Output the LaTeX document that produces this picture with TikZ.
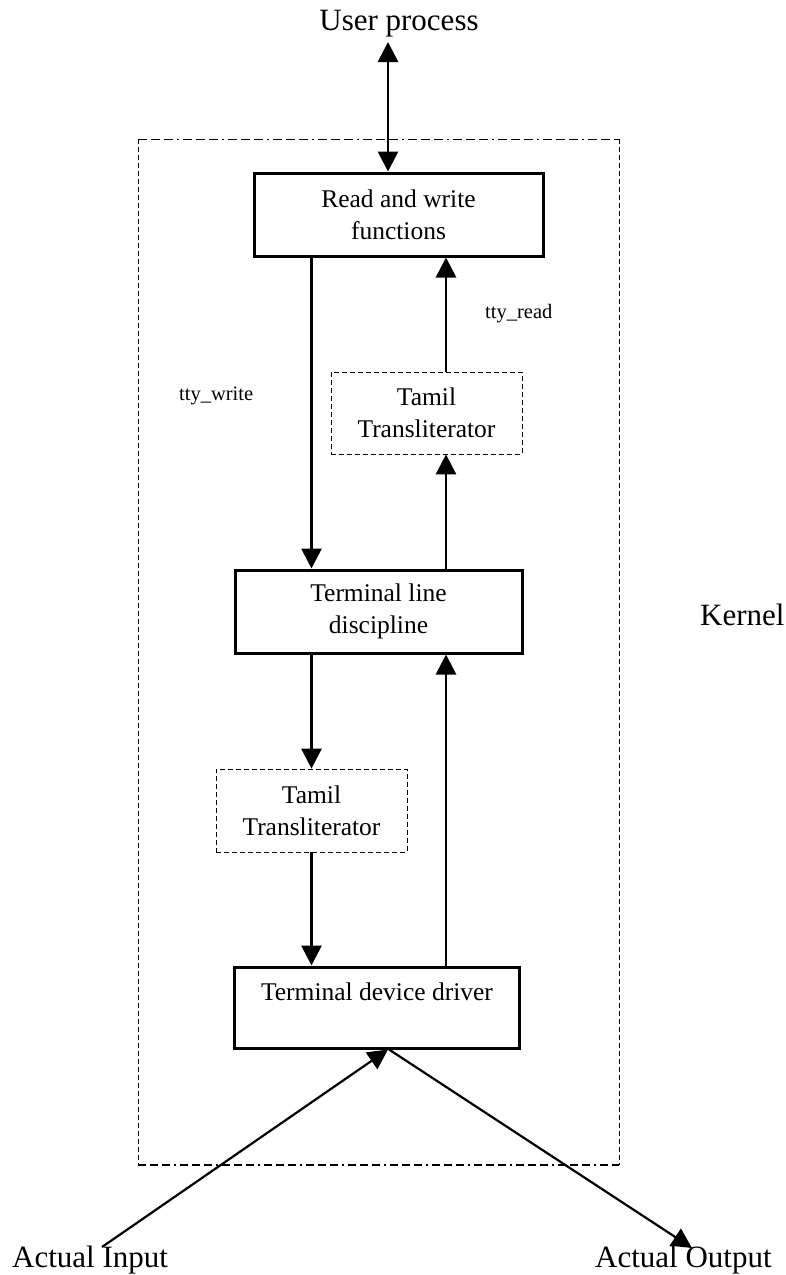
\documentclass[tikz,border=0pt]{standalone}
\usepackage{fontspec}
\setmainfont{Liberation Serif}
\usetikzlibrary{arrows.meta}
\tikzset{
  >={Triangle[length=20pt,width=20pt]},
  box/.style={draw, line width=3pt, minimum width=289pt, minimum height=83pt, align=center, inner sep=0pt, font=\fontsize{25.5}{32}\selectfont},
  tbox/.style={draw, line width=0.8pt, dash pattern=on 5pt off 3pt, minimum width=191pt, minimum height=82pt, align=center, inner sep=0pt, font=\fontsize{25.5}{32}\selectfont},
  big/.style={inner sep=0pt, font=\fontsize{31}{36}\selectfont},
  small/.style={inner sep=0pt, font=\fontsize{20.5}{24}\selectfont},
  flow/.style={line width=2.8pt, ->},
}

\begin{document}
\begin{tikzpicture}[x=1pt,y=1pt]
  \useasboundingbox (0,0) rectangle (786,-1275);
  \draw[line width=0.8pt, dash pattern=on 9pt off 4pt on 9pt off 4pt on 9pt off 4pt on 2pt off 4pt] (138,-139) -- (619,-139);
  \draw[line width=0.8pt, dash pattern=on 5pt off 3pt] (138,-139) -- (138,-1165) (619,-139) -- (619,-1165);
  \draw[line width=2pt, dash pattern=on 8pt off 4pt on 8pt off 4pt on 8pt off 4pt on 2pt off 4pt] (138,-1165) -- (619,-1165);
  \node[big, anchor=base] (user) at (399,-30) {User process};
  \node[big, anchor=base west] (kernel) at (700,-625) {Kernel};
  \node[box] (rw) at (398.5,-214.5) {Read and write\\functions};
  \node[tbox] (tamilup) at (426.5,-413) {Tamil\\Transliterator};
  \node[box, minimum width=287pt] (tld) at (378.5,-611.5) {Terminal line\\discipline};
  \node[tbox, minimum height=83pt] (tamildown) at (311.5,-810.5) {Tamil\\Transliterator};
  \node[box, minimum width=285.5pt, minimum height=81pt] (tdd) at (377,-1007.5) {Terminal device driver\\\mbox{}};
  \node[small, anchor=base west] (ttywrite) at (179,-400) {tty\_write};
  \node[small, anchor=base west] (ttyread) at (485,-318) {tty\_read};
  \node[big, anchor=base west] (input) at (12,-1267) {Actual Input};
  \node[big, anchor=base west] (output) at (595,-1267) {Actual Output};
  \coordinate (utop) at (388,-42);
  \coordinate (readx) at (446,-600);
  \coordinate (inp) at (102,-1247);
  \coordinate (outp) at (692,-1248);
  \draw[line width=2.8pt, <->] (utop) -- (utop |- rw.north);
  \draw[flow] (rw.south -| tamildown) -- (tld.north -| tamildown);
  \draw[flow] (tld.south -| tamildown) -- (tamildown.north);
  \draw[flow] (tamildown.south) -- (tamildown |- tdd.north);
  \draw[flow] (tdd.north -| readx) -- (tld.south -| readx);
  \draw[flow] (tld.north -| readx) -- (tamilup.south -| readx);
  \draw[flow] (tamilup.north -| readx) -- (rw.south -| readx);
  \draw[flow, line width=2.2pt] (inp) -- ([xshift=11pt]tdd.south);
  \draw[flow, line width=2.2pt] ([xshift=12pt]tdd.south) -- (outp);
\end{tikzpicture}
\end{document}
